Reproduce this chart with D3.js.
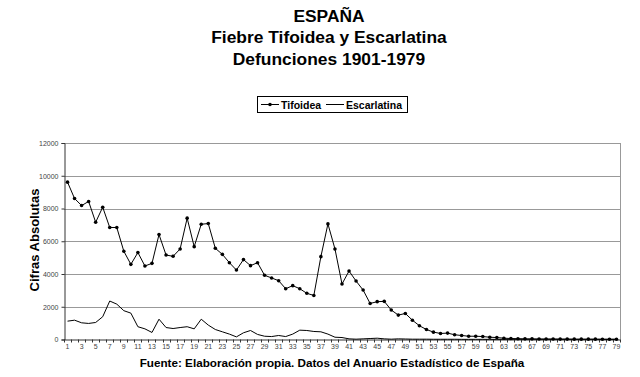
<!DOCTYPE html>
<html><head><meta charset="utf-8">
<script src="https://cdn.jsdelivr.net/npm/d3@7"></script>
<style>
body{margin:0;background:#fff;}
svg{display:block;font-family:"Liberation Sans",Arial,sans-serif;}
</style></head><body>
<svg id="c" width="640" height="377"></svg>
<script>
const years = d3.range(1, 80);
const tifoidea = [9610,8610,8180,8430,7160,8080,6840,6840,5390,4590,
  5310,4490,4650,6410,5160,5080,5530,7410,5670,7040,
  7080,5570,5200,4690,4240,4880,4510,4690,3920,3760,
  3590,3100,3290,3100,2820,2690,5060,7060,5530,3390,
  4180,3570,3020,2200,2310,2330,1800,1490,1590,1180,
  840,610,450,370,390,290,245,200,200,180,
  140,120,80,60,50,40,40,30,30,30,
  25,25,20,20,20,20,15,15,15];
const escarlatina = [1120,1180,1020,980,1040,1390,2350,2160,1760,1610,
  780,650,430,1240,730,670,730,780,650,1240,
  880,610,470,330,160,410,550,310,200,180,
  245,180,330,570,550,490,470,330,140,120,
  40,20,40,60,80,40,20,40,30,20,
  20,20,15,15,15,15,10,10,10,10,
  10,10,10,10,10,10,10,10,10,10,
  10,10,10,10,10,10,10,10,10];
const yTicks = [0,2000,4000,6000,8000,10000,12000];
const titleLines = ["ESPAÑA","Fiebre Tifoidea y Escarlatina","Defunciones 1901-1979"];

const svg = d3.select("#c");
const L = 64, R = 620, T = 143, B = 339.5;
const x = d3.scaleBand().domain(years).range([L, R]);
const y = d3.scaleLinear().domain([0, 12000]).range([B, T]);

// titles
svg.selectAll("text.title").data(titleLines).join("text")
  .attr("x", 329).attr("y", (d,i) => 21.5 + i*21.8)
  .attr("text-anchor","middle").attr("font-weight","bold").attr("font-size",17.4)
  .text(d => d);

// gridlines
svg.append("g").selectAll("line").data(yTicks.slice(1)).join("line")
  .attr("x1", L).attr("x2", R).attr("y1", d => Math.round(y(d))+0.5).attr("y2", d => Math.round(y(d))+0.5)
  .attr("stroke", "#999").attr("stroke-width", 1);
// right border
svg.append("line").attr("x1", R+0.5).attr("x2", R+0.5).attr("y1", T).attr("y2", B).attr("stroke","#999");

// y axis
const yAxis = d3.axisLeft(y).tickValues(yTicks).tickSize(3).tickFormat(d3.format("d"));
const gy = svg.append("g").attr("transform", `translate(${L+0.5},0)`).call(yAxis);
gy.selectAll("text").attr("font-size", 7).attr("fill", "#444");
gy.selectAll("line,path").attr("stroke", "#333");

// x axis
const xAxis = d3.axisBottom(x).tickSize(0).tickFormat(d => d % 2 === 1 ? d : "");
const gx = svg.append("g").attr("transform", `translate(0,${B})`).call(xAxis);
gx.select("path").attr("stroke","#333");
gx.selectAll("text").attr("font-size", 7).attr("fill", "#444").attr("dy", "0.9em");
// tick marks between categories
gx.append("g").selectAll("line").data(years.concat([80])).join("line")
  .attr("x1", d => Math.round(d === 80 ? R : x(d)) + 0.5)
  .attr("x2", d => Math.round(d === 80 ? R : x(d)) + 0.5)
  .attr("y1", 0).attr("y2", 3).attr("stroke", "#333");

const cx = d => x(d) + x.bandwidth()/2;
const line = d3.line().x((d,i) => cx(years[i])).y(d => y(d));

svg.append("path").datum(escarlatina).attr("d", line)
  .attr("fill","none").attr("stroke","#000").attr("stroke-width",1);
svg.append("path").datum(tifoidea).attr("d", line)
  .attr("fill","none").attr("stroke","#000").attr("stroke-width",1);
svg.append("g").selectAll("circle").data(tifoidea).join("circle")
  .attr("cx", (d,i) => cx(years[i])).attr("cy", d => y(d)).attr("r", 1.8).attr("fill", "#000");

// y label
svg.append("text").attr("transform", "translate(39,240) rotate(-90)")
  .attr("text-anchor","middle").attr("font-weight","bold").attr("font-size",13)
  .text("Cifras Absolutas");

// legend
const lg = svg.append("g");
lg.append("rect").attr("x", 257.5).attr("y", 96.5).attr("width", 150).attr("height", 16)
  .attr("fill","#fff").attr("stroke","#000");
lg.append("line").attr("x1", 261).attr("x2", 279).attr("y1", 104.5).attr("y2", 104.5).attr("stroke","#000");
lg.append("circle").attr("cx", 270).attr("cy", 104.5).attr("r", 1.8).attr("fill","#000");
lg.append("text").attr("x", 281).attr("y", 108.5).attr("font-size", 10.5).attr("font-weight","bold").text("Tifoidea");
lg.append("line").attr("x1", 326).attr("x2", 344).attr("y1", 104.5).attr("y2", 104.5).attr("stroke","#000");
lg.append("text").attr("x", 346).attr("y", 108.5).attr("font-size", 10.5).attr("font-weight","bold").text("Escarlatina");

// footer
svg.append("text").attr("x", 332).attr("y", 367).attr("text-anchor","middle")
  .attr("font-weight","bold").attr("font-size",11.7)
  .text("Fuente: Elaboración propia. Datos del Anuario Estadístico de España");
</script></body></html>
